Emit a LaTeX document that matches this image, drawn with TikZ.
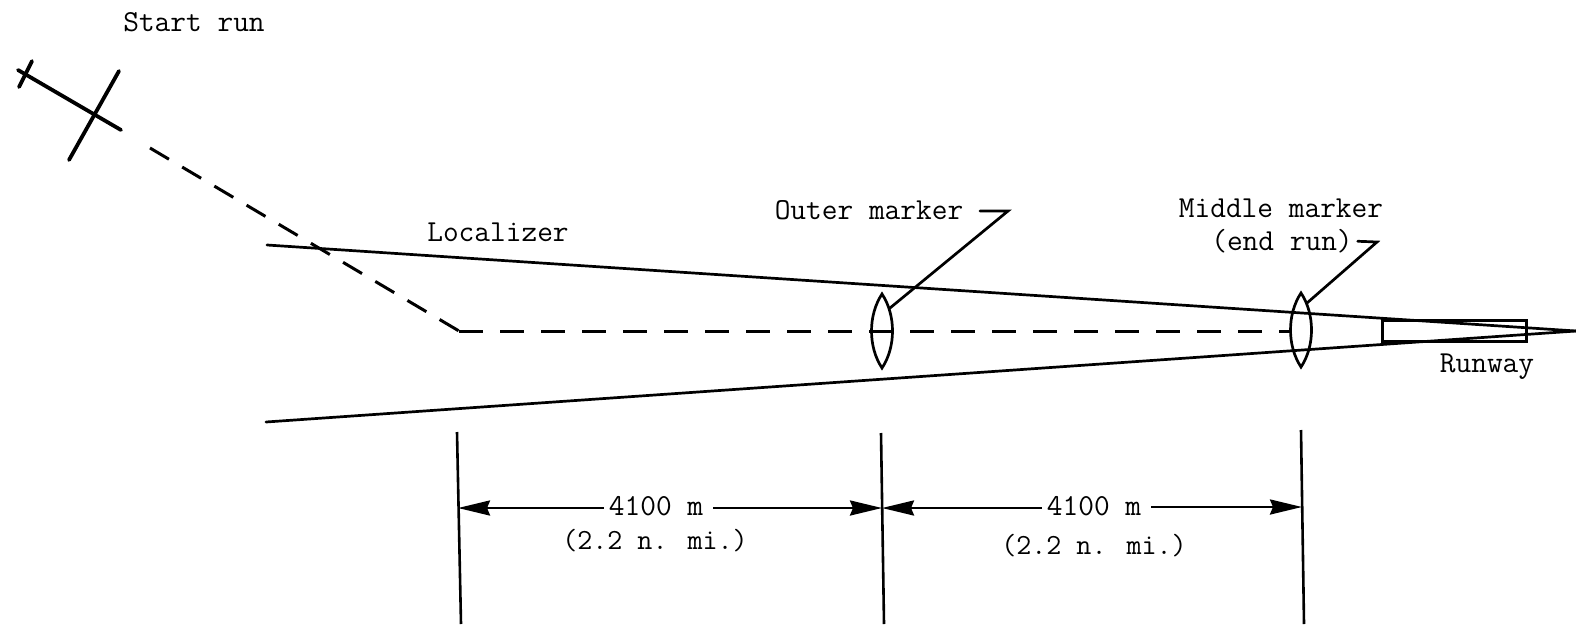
\documentclass[tikz,border=0pt]{standalone}
\usepackage{tikz}
\usetikzlibrary{arrows.meta, positioning}

\begin{document}
\begin{tikzpicture}[
  x=1pt, y=-1pt,
  lab/.style={font=\fontsize{30.5}{32}\selectfont\ttfamily, inner sep=5pt, outer sep=0pt},
  sublab/.style={font=\fontsize{29.2}{32}\selectfont\ttfamily, inner sep=5pt, outer sep=0pt},
  beam/.style={line width=2.7pt, line cap=round},
  track/.style={line width=3.8pt, line cap=round},
  dashA/.style={line width=3pt, dash pattern=on 22pt off 15.4pt},
  dashB/.style={line width=3pt, dash pattern=on 24pt off 17pt},
  tick/.style={line width=2.6pt},
  dimarr/.style={-{Stealth[length=32pt, width=15pt, inset=3pt]}, line width=2.7pt},
  lens/.style={line width=2.7pt, line join=miter}
]
  \useasboundingbox (0,0) rectangle (1576,624);

  \node[lab] (start) at (194,22) {Start run};
  \node[lab] (loc) at (498,232) {Localizer};
  \node[lab] (outerlab) at (869,210) {Outer marker};
  \node[lab] (midlab) at (1281,208) {Middle marker};
  \node[lab, below=2pt of midlab.south, xshift=1pt] (endlab) {(end run)};
  \node[lab] (runway) at (1487,367) {Runway};

  % start of the run
  \coordinate (runA) at (18,70);
  \coordinate (runB) at (121,130);
  \draw[track] (runA) -- (runB);
  \draw[track] (32,61) -- (19,87);
  \draw[track] (119,71) -- (69,160);

  % flight path
  \coordinate (pathA) at (150,148);
  \coordinate (turn) at (459,331);
  \coordinate (pathB) at (1292,331);
  \draw[dashA] (pathA) -- (turn);
  \draw[dashB] (turn) -- (pathB);

  % beam and runway
  \coordinate (apex) at (1576,331);
  \draw[beam] (267,245) -- (apex);
  \draw[beam] (266,422) -- (apex);
  \draw[line width=3pt] (1382,320) rectangle (1526,341);

  % markers
  \coordinate (outerlens) at (882,331);
  \coordinate (midlens) at (1301,330);
  \foreach \m in {outerlens, midlens} {
    \draw[lens, shift={(\m)}] (0,-37) .. controls (-14,-16) and (-14,16) .. (0,37)
                .. controls (14,16) and (14,-16) .. (0,-37) -- cycle;
  }

  % leaders
  \coordinate (outerknee) at (1008,211);
  \coordinate (outertip) at (890,308);
  \coordinate (midknee) at (1377,242);
  \coordinate (midtip) at (1307,303);
  \draw[beam] (980,211) -- (outerknee) -- (outertip);
  \draw[beam] (endlab.east) -- (midknee) -- (midtip);

  % dimensions
  \coordinate (tickA) at (457,432);
  \coordinate (tickAb) at (461,624);
  \coordinate (tickB) at (881,433);
  \coordinate (tickBb) at (884,624);
  \coordinate (tickC) at (1301,430);
  \coordinate (tickCb) at (1304,624);
  \draw[tick] (tickA) -- (tickAb);
  \draw[tick] (tickB) -- (tickBb);
  \draw[tick] (tickC) -- (tickCb);

  \node[lab] (distA) at (656,506) {4100 m};
  \node[lab] (distB) at (1094,506) {4100 m};
  \node[sublab] (miA) at (655,541) {(2.2 n. mi.)};
  \node[sublab] (miB) at (1094,546) {(2.2 n. mi.)};

  \coordinate (endAl) at (458,508);
  \coordinate (endAr) at (882,508);
  \coordinate (endBl) at (882,508);
  \coordinate (endBr) at (1302,507);
  \draw[dimarr] (distA.west |- endAl) -- (endAl);
  \draw[dimarr] ([xshift=5pt]distA.east |- endAr) -- (endAr);
  \draw[dimarr] (distB.west |- endBl) -- (endBl);
  \draw[dimarr] ([xshift=5pt]distB.east |- endBr) -- (endBr);
\end{tikzpicture}
\end{document}
